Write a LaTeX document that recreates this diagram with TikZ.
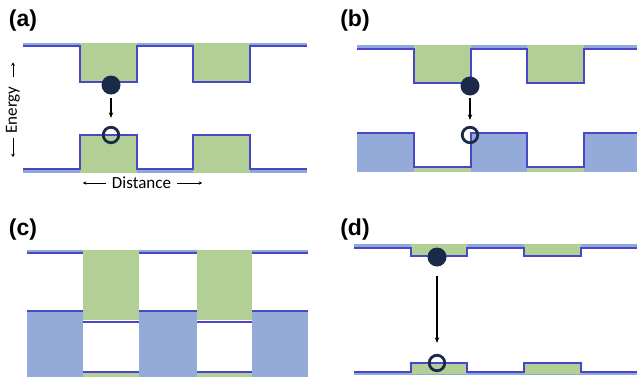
\documentclass[tikz,border=0pt]{standalone}
\usepackage{fontspec}
\setmainfont{Carlito}
\newfontfamily\labelfont{Liberation Sans}
\usetikzlibrary{arrows.meta}
\definecolor{bandgreen}{HTML}{B2CF96}
\definecolor{bandblue}{HTML}{94AAD8}
\definecolor{stripblue}{HTML}{8FA8DC}
\definecolor{edgeblue}{HTML}{4B45C8}
\definecolor{navy}{HTML}{1C2A4A}
\tikzset{
  band/.style={draw=edgeblue, line width=2pt, line join=miter},
  strip/.style={fill=stripblue},
  gfill/.style={fill=bandgreen},
  bfill/.style={fill=bandblue},
  electron/.style={circle, fill=navy, minimum size=19pt, inner sep=0pt},
  hole/.style={circle, draw=navy, line width=2.8pt, minimum size=15.5pt, inner sep=0pt},
  trans/.style={-{Stealth[length=5.5pt,width=4.5pt]}, line width=1.2pt, black},
  axisarr/.style={-{Stealth[length=3.5pt,width=3.5pt]}, line width=0.9pt, black},
  panellabel/.style={font=\labelfont\bfseries\fontsize{23}{23}\selectfont, inner sep=0pt},
  axislabel/.style={font=\fontsize{17}{17}\selectfont, inner sep=0pt}
}
\begin{document}
\begin{tikzpicture}[x=1pt,y=-1pt]
\useasboundingbox (0,0) rectangle (637,383);
\fill[white] (0,0) rectangle (637,383);

% ---------------- (a) ----------------
\node[panellabel] (la) at (23,21) {(a)};
\fill[strip] (23,43) rectangle (307,47);
\fill[gfill] (80,43) rectangle (137,82);
\fill[gfill] (193,43) rectangle (250,82);
\draw[band] (23,46) -| (80,82) -| (137,46) -| (193,82) -| (250,46) -- (307,46);
\fill[strip] (23,169) rectangle (307,173);
\fill[gfill] (80,134) rectangle (137,173);
\fill[gfill] (193,134) rectangle (250,173);
\draw[band] (23,169) -| (80,135) -| (137,169) -| (193,135) -| (250,169) -- (307,169);
\node[electron] (ea) at (111,85) {};
\node[hole] (ha) at (111,135) {};
\draw[trans, shorten <=3pt, shorten >=8pt] (ea) -- (ha);
\node[axislabel, rotate=90] (energy) at (13,110) {Energy};
\draw[axisarr] ([yshift=9pt]energy.east) -- ([yshift=24pt]energy.east);
\draw[axisarr] ([yshift=-4.5pt]energy.west) -- ([yshift=-23.5pt]energy.west);
\node[axislabel] (dist) at (141.5,183) {Distance};
\draw[axisarr] ([xshift=-6pt]dist.west) -- ([xshift=-29pt]dist.west);
\draw[axisarr] ([xshift=6pt]dist.east) -- ([xshift=31pt]dist.east);

% ---------------- (b) ----------------
\node[panellabel] (lb) at (355,21) {(b)};
\fill[strip] (357,45) rectangle (637,49);
\fill[gfill] (414,45) rectangle (471,83);
\fill[gfill] (527,45) rectangle (584,83);
\draw[band] (357,49) -| (414,83) -| (471,49) -| (527,83) -| (584,49) -- (637,49);
\fill[bfill] (357,133) rectangle (414,172);
\fill[bfill] (471,133) rectangle (527,172);
\fill[bfill] (584,133) rectangle (637,172);
\fill[gfill] (414,167) rectangle (471,172);
\fill[gfill] (527,167) rectangle (584,172);
\draw[band] (357,133) -| (414,167) -| (471,133) -| (527,167) -| (584,133) -- (637,133);
\node[electron] (eb) at (470,86) {};
\node[hole] (hb) at (470,135) {};
\draw[trans, shorten <=2pt, shorten >=6pt] (eb) -- (hb);

% ---------------- (c) ----------------
\node[panellabel] (lc) at (23,230) {(c)};
\fill[strip] (27,250) rectangle (83,254);
\fill[strip] (139,250) rectangle (197,254);
\fill[strip] (252,250) rectangle (308,254);
\fill[gfill] (83,250) rectangle (139,320);
\fill[gfill] (197,250) rectangle (252,320);
\draw[band] (27,253) -- (83,253);
\draw[band] (139,253) -- (197,253);
\draw[band] (252,253) -- (308,253);
\fill[bfill] (27,310) rectangle (83,377);
\fill[bfill] (139,310) rectangle (197,377);
\fill[bfill] (252,310) rectangle (308,377);
\draw[band] (27,311) -- (83,311);
\draw[band] (139,311) -- (197,311);
\draw[band] (252,311) -- (308,311);
\draw[band] (83,322) -- (139,322);
\draw[band] (197,322) -- (252,322);
\fill[gfill] (83,372) rectangle (139,377);
\fill[gfill] (197,372) rectangle (252,377);
\draw[band] (83,372) -- (139,372);
\draw[band] (197,372) -- (252,372);

% ---------------- (d) ----------------
\node[panellabel] (ld) at (355,230) {(d)};
\fill[strip] (354,244) rectangle (637,249);
\fill[gfill] (411,244) rectangle (467,256);
\fill[gfill] (524,244) rectangle (581,256);
\draw[band] (354,248) -| (411,256) -| (467,248) -| (524,256) -| (581,248) -- (637,248);
\fill[strip] (354,372) rectangle (637,374.5);
\fill[gfill] (411,363) rectangle (467,374);
\fill[gfill] (524,363) rectangle (581,374);
\draw[band] (354,372) -| (411,363) -| (467,372) -| (524,363) -| (581,372) -- (637,372);
\node[electron] (ed) at (437,257) {};
\node[hole] (hd) at (437,363) {};
\draw[trans, shorten <=9pt, shorten >=11pt] (ed) -- (hd);
\end{tikzpicture}
\end{document}
